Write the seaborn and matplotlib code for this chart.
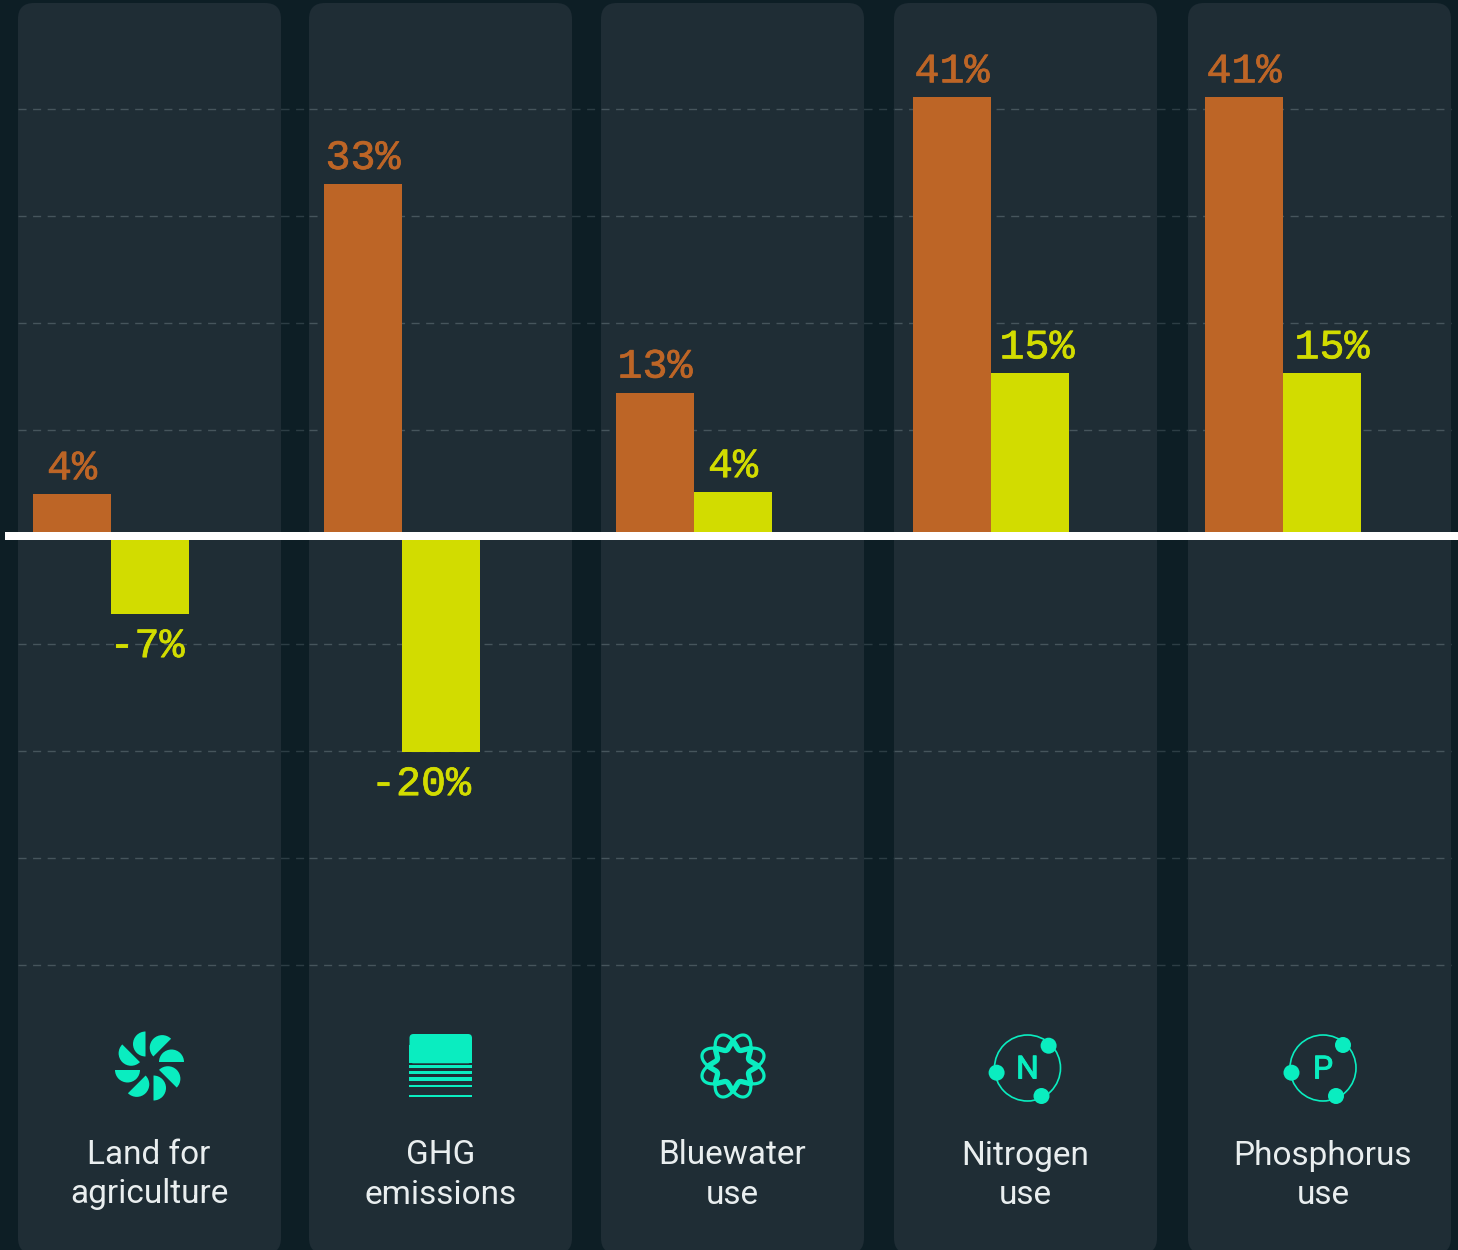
import numpy as np
import pandas as pd
import matplotlib
matplotlib.use("Agg")
import matplotlib.pyplot as plt
import matplotlib.patheffects as pe
from matplotlib.patches import FancyBboxPatch, Wedge, Circle
import seaborn as sns

metrics = ["Land for\nagriculture", "GHG\nemissions", "Bluewater\nuse", "Nitrogen\nuse", "Phosphorus\nuse"]
series_names = ["orange", "yellow"]
orange_values = [3.9, 32.9, 13.4, 41.0, 41.0]
yellow_values = [-7.3, -20.2, 4.1, 15.2, 15.2]
grid_values = [40, 30, 20, 10, -10, -20, -30, -40]

W, H = 1458, 1250
ZERO_PX = 536
PX_PER_PCT = 10.7

BG = "#0d1e25"
PANEL = "#1f2d35"
ORANGE = "#bd6526"
YELLOW = "#d2dc00"
TEAL = "#0aedc0"
TEXT = "#e9eeef"

# panel left/right and bar group centre, in pixels
panel_left = [18, 309, 601, 894, 1188]
panel_right = [281, 572, 864, 1157, 1451]
group_center = [111, 402, 694, 991, 1283]
label_x = [149, 441, 732, 1025, 1323]
# small sideways nudges the original has on some yellow labels
yellow_nudge = [-3, -20, 0, 7, 10]

sns.set_style("white")
plt.rcParams["font.family"] = ["Roboto", "DejaVu Sans"]
plt.rcParams["lines.scale_dashes"] = False

df = pd.DataFrame({
    "metric": metrics * 2,
    "series": [series_names[0]] * 5 + [series_names[1]] * 5,
    "value": orange_values + yellow_values,
})

fig = plt.figure(figsize=(W / 100, H / 100), dpi=100, facecolor=BG)
pct_ylim = ((ZERO_PX - H) / PX_PER_PCT, ZERO_PX / PX_PER_PCT)


def overlay(ylim, z):
    a = fig.add_axes([0, 0, 1, 1], facecolor="none", zorder=z)
    a.set_xlim(0, W)
    a.set_ylim(*ylim)
    a.axis("off")
    return a


def pinwheel(a, cx, cy):
    for k in range(8):
        rad = np.deg2rad(-45 * k)
        dx = -4 * np.cos(rad) - 22 * np.sin(rad)
        dy = -4 * np.sin(rad) + 22 * np.cos(rad)
        # y axis is flipped here, so wedge angles run the other way
        a.add_patch(Wedge((cx + dx, cy - dy), 12.5, 45 * k - 270, 45 * k - 90, color=TEAL, lw=0))


def stripes(a, x0, x1):
    a.add_patch(FancyBboxPatch((x0 + 4, 1038), x1 - x0 - 8, 21.3, boxstyle="round,pad=4,rounding_size=4", color=TEAL, lw=0))
    a.fill_between([x0, x1], 1045, 1063.3, color=TEAL, lw=0)
    for top, bottom in [(1065, 1068.3), (1070.7, 1074), (1077.3, 1080.7), (1085, 1087.3), (1095, 1096.7)]:
        a.fill_between([x0, x1], top, bottom, color=TEAL, lw=0)


def knot(a, cx, cy):
    t = np.linspace(0, 2 * np.pi, 800)
    for phase in [22.5, 67.5]:
        r = 25 + 8 * np.cos(4 * (t - np.deg2rad(phase)))
        x, y = cx + r * np.cos(t), cy - r * np.sin(t)
        a.plot(x, y, color=TEAL, lw=2.3)
        # ribbon gets thicker on its way round the inner ring
        a.plot(np.where(r < 25, x, np.nan), np.where(r < 25, y, np.nan), color=TEAL, lw=3.8)


def atom(a, cx, letter, dots):
    a.add_patch(Circle((cx, 1068), 33, fill=False, ec=TEAL, lw=1.2))
    for x, y in dots:
        a.add_patch(Circle((x, y), 8, color=TEAL, lw=0))
    a.text(cx, 1070, letter, color=TEAL, ha="center", va="center", fontsize=23,
           path_effects=[pe.withStroke(linewidth=0.7, foreground=TEAL)])


# panels, icons and category names sit in pixel space
bg = overlay((H, 0), 0)
for left, right in zip(panel_left, panel_right):
    bg.add_patch(FancyBboxPatch((left + 16, 3 + 16), right - left - 32, 1219, boxstyle="round,pad=16,rounding_size=16", fc=PANEL, ec="none"))
for name, x in zip(metrics, label_x):
    bg.text(x, 1175, name, color=TEXT, ha="center", va="center", fontsize=24, fontweight="normal", linespacing=1.28)
pinwheel(bg, 149.5, 1066)
stripes(bg, 409.5, 472)
knot(bg, 733, 1066)
atom(bg, 1027.5, "N", [(1048.6, 1045.7), (996.6, 1072.7), (1041.5, 1096)])
atom(bg, 1323, "P", [(1343, 1045), (1291.5, 1072.7), (1336, 1096)])

# gridlines sit one pixel lower than the zero line would put them
grid_ax = overlay((pct_ylim[0] + 1 / PX_PER_PCT, pct_ylim[1] + 1 / PX_PER_PCT), 1)
dash = [(0, (5.8, 4.7))]
for left, right in zip(panel_left, panel_right):
    grid_ax.hlines(grid_values, left, right, color="#46555c", lw=1.0, linestyles=dash)
for right, next_left in zip(panel_right[:-1], panel_left[1:]):
    grid_ax.hlines(grid_values, right, next_left, color="#2c3d44", lw=1.0, linestyles=dash)

unit_px = 195  # one category step; bars are 0.4 wide, so 78 px
for i, name in enumerate(metrics):
    left, right = panel_left[i], panel_right[i]
    ax = fig.add_axes([left / W, 0, (right - left) / W, 1], facecolor="none", zorder=2)
    sns.barplot(data=df[df["metric"] == name], x="metric", y="value", hue="series", hue_order=series_names,
                palette=[ORANGE, YELLOW], saturation=1, width=0.8, gap=0, legend=False, linewidth=0, ax=ax)
    ax.set_xlim((left - group_center[i]) / unit_px, (right - group_center[i]) / unit_px)
    ax.set_ylim(*pct_ylim)
    ax.axis("off")

    # value labels, from the same values as the bars
    for v, x, color, nudge in [(orange_values[i], -0.2, ORANGE, 0), (yellow_values[i], 0.2, YELLOW, yellow_nudge[i])]:
        off = 26 if v > 0 else -32
        ax.annotate(f"{v:.0f}%", (x, v), xytext=(nudge, off), textcoords="offset pixels", color=color,
                    ha="center", va="center", fontsize=30, family="Liberation Mono", annotation_clip=False,
                    path_effects=[pe.withStroke(linewidth=0.5, foreground=color)])

top = overlay(pct_ylim, 3)
top.axhline(0, xmin=5 / W, xmax=1, color="white", lw=8 * 0.72, solid_capstyle="butt")

fig.savefig("out.png", dpi=100, facecolor=BG)
